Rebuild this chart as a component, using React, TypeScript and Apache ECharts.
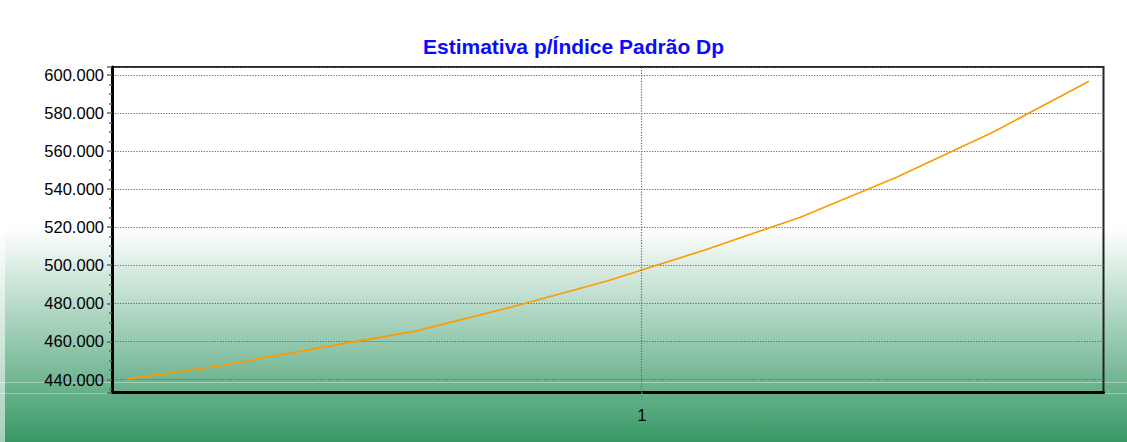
import React, { useEffect, useRef } from "react";
import * as echarts from "echarts";

const TITLE = "Estimativa p/Índice Padrão Dp";
const X_POINTS = [0, 1, 2, 3, 4, 5, 6, 7, 8, 9, 10];
const SERIES_VALUES = [440200, 447500, 456600, 465400, 478100, 491900, 507900, 525200, 546200, 569800, 596600];
const X_TICK_POS = [5.353];
const X_TICK_LABELS = ["1"];
const Y_MIN = 433180;
const Y_MAX = 604100;
const Y_STEP = 20000;
const X_MIN = -0.156;
const X_MAX = 10.151;

const fmt = (v: number) => String(Math.round(v)).replace(/\B(?=(\d{3})+(?!\d))/g, ".");

export default function App() {
  const ref = useRef<HTMLDivElement>(null);
  useEffect(() => {
    if (!ref.current) return;
    const chart = echarts.init(ref.current, null, { renderer: "svg" });
    const font = "'Liberation Sans', Arial, Helvetica, sans-serif";
    chart.setOption({
      animation: false,
      backgroundColor: "#ffffff",
      title: {
        text: TITLE,
        left: 418,
        top: 31,
        textStyle: { color: "#0a0aff", fontSize: 21, fontWeight: "bold", fontFamily: font },
      },
      graphic: [
        {
          type: "rect",
          z: -100,
          silent: true,
          shape: { x: 0, y: 228, width: 1127, height: 214 },
          style: {
            fill: new echarts.graphic.LinearGradient(0, 0, 0, 1, [
              { offset: 0, color: "#ffffff" },
              { offset: 0.48, color: "#9fceb6" },
              { offset: 1, color: "#379866" },
            ]),
          },
        },
        {
          type: "rect",
          z: -99,
          silent: true,
          shape: { x: 0, y: 228, width: 5, height: 214 },
          style: { fill: "rgba(255,255,255,0.55)" },
        },
        {
          type: "line",
          z: -98,
          silent: true,
          shape: { x1: 0, y1: 382.5, x2: 1127, y2: 382.5 },
          style: { stroke: "rgba(255,255,255,0.35)", lineWidth: 1 },
        },
        {
          type: "line",
          z: -98,
          silent: true,
          shape: { x1: 0, y1: 393.5, x2: 1127, y2: 393.5 },
          style: { stroke: "rgba(255,255,255,0.35)", lineWidth: 1 },
        },
      ],
      grid: {
        left: 112,
        top: 67,
        right: 23.5,
        bottom: 49.5,
        show: true,
        backgroundColor: "transparent",
        borderColor: "#222",
        borderWidth: 2,
        containLabel: false,
      },
      xAxis: {
        type: "value",
        min: X_MIN,
        max: X_MAX,
        axisLine: { show: true, onZero: false, lineStyle: { color: "#000", width: 3 } },
        axisTick: {
          show: true,
          customValues: X_TICK_POS,
          length: 9,
          lineStyle: { color: "#777", width: 1.5, type: "dotted" },
        },
        axisLabel: {
          show: true,
          customValues: X_TICK_POS,
          formatter: (v: number) => {
            const i = X_TICK_POS.findIndex((p) => Math.abs(p - v) < 1e-6);
            return i >= 0 ? X_TICK_LABELS[i] : "";
          },
          color: "#000",
          fontSize: 16,
          fontFamily: font,
          margin: 15,
        },
        splitLine: { show: false },
      },
      yAxis: {
        type: "value",
        min: Y_MIN,
        max: Y_MAX,
        minInterval: Y_STEP,
        maxInterval: Y_STEP,
        splitNumber: 8,
        axisLine: { show: true, onZero: false, lineStyle: { color: "#000", width: 3 } },
        axisTick: { show: true, length: 5, lineStyle: { color: "#666", width: 1.5 } },
        minorTick: { show: true, splitNumber: 4, length: 3, lineStyle: { color: "#666", width: 1.5 } },
        axisLabel: {
          formatter: fmt,
          showMinLabel: false,
          showMaxLabel: false,
          color: "#000",
          fontSize: 16.5,
          fontFamily: font,
          margin: 8,
        },
        splitLine: { show: true, lineStyle: { color: "#666", width: 1.2, type: [1.2, 1.5] } },
      },
      series: [
        {
          type: "line",
          data: X_POINTS.map((x, i) => [x, SERIES_VALUES[i]]),
          showSymbol: false,
          symbol: "none",
          lineStyle: { color: "#ff9900", width: 1.6 },
          itemStyle: { color: "#ff9900" },
          markLine: {
            silent: true,
            symbol: ["none", "none"],
            label: { show: false },
            lineStyle: { color: "#666", width: 1.2, type: [1.2, 1.5] },
            data: X_TICK_POS.map((p) => ({ xAxis: p })),
          },
        },
      ],
    });
    return () => chart.dispose();
  }, []);
  return (
    <div
      ref={ref}
      style={{ position: "fixed", left: 0, top: 0, width: 1127, height: 442 }}
    />
  );
}
